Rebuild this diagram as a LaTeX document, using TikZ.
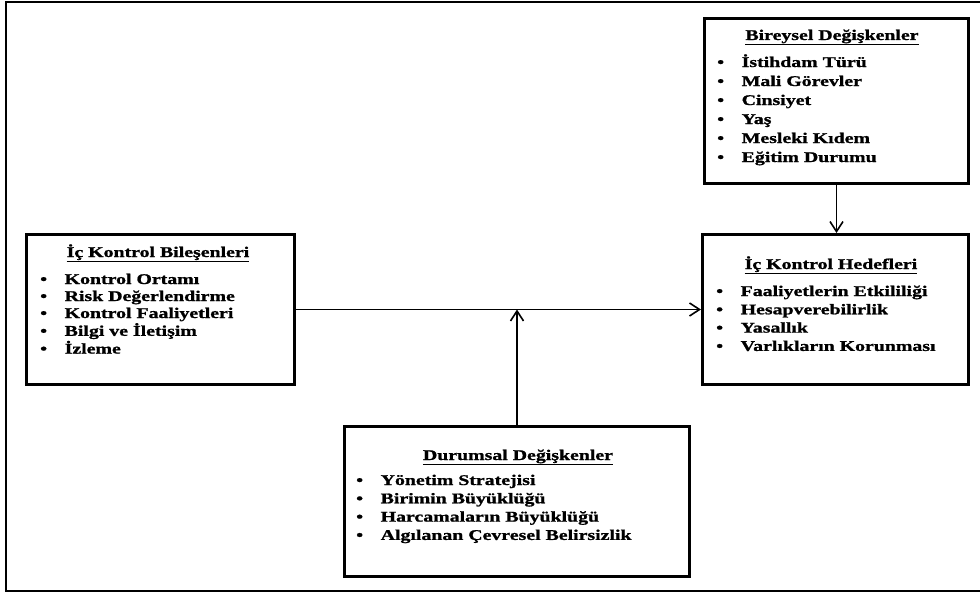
\documentclass[tikz,border=0pt]{standalone}
\usepackage{fontspec}
\setmainfont{Liberation Serif}[FakeStretch=1.34, BoldFeatures={FakeBold=1.2}]
\usetikzlibrary{arrows.meta}
\newcommand\itm[1]{\makebox[24.5pt][l]{\textbullet}#1\\}
\begin{document}
\begin{tikzpicture}[x=1pt,y=-1pt,
  box/.style={draw, line width=3pt, inner sep=0pt, anchor=north west},
  ttl/.style={anchor=base, inner sep=0pt, font=\fontsize{14.8}{18}\selectfont\bfseries},
  lst/.style={anchor=base west, inner sep=0pt, font=\fontsize{14.8}{#1}\selectfont\bfseries},
  conn/.style={line width=1.6pt, -{Straight Barb[length=10pt,width=13pt]}},
  frame/.style={line width=2pt}]
\useasboundingbox (0,0) rectangle (980,594);
\draw[frame] (980,2) -- (6,2) -- (6,591) -- (980,591);

% boxes
\node[box, minimum width=264pt, minimum height=165pt] (bir) at (703,17) {};
\node[box, minimum width=268pt, minimum height=150pt] (bil) at (25,233) {};
\node[box, minimum width=266pt, minimum height=150pt] (hed) at (701,233) {};
\node[box, minimum width=345pt, minimum height=150pt] (dur) at (343,425) {};

% texts
\node[ttl] (birT) at (832,40) {\underline{Bireysel Değişkenler}};
\node[lst=19] (birL) at (717,67) {\begin{tabular}[t]{@{}l@{}}\itm{İstihdam Türü}\itm{Mali Görevler}\itm{Cinsiyet}\itm{Yaş}\itm{Mesleki Kıdem}\itm{Eğitim Durumu}\end{tabular}};

\node[ttl] (bilT) at (158,257) {\underline{İç Kontrol Bileşenleri}};
\node[lst=17] (bilL) at (40,284) {\begin{tabular}[t]{@{}l@{}}\itm{Kontrol Ortamı}\itm{Risk Değerlendirme}\itm{Kontrol Faaliyetleri}\itm{Bilgi ve İletişim}\itm{İzleme}\end{tabular}};

\node[ttl] (hedT) at (831,269) {\underline{İç Kontrol Hedefleri}};
\node[lst=18.3] (hedL) at (716,296) {\begin{tabular}[t]{@{}l@{}}\itm{Faaliyetlerin Etkililiği}\itm{Hesapverebilirlik}\itm{Yasallık}\itm{Varlıkların Korunması}\end{tabular}};

\node[ttl] (durT) at (518,460) {\underline{Durumsal Değişkenler}};
\node[lst=18.3] (durL) at (356,485) {\begin{tabular}[t]{@{}l@{}}\itm{Yönetim Stratejisi}\itm{Birimin Büyüklüğü}\itm{Harcamaların Büyüklüğü}\itm{Algılanan Çevresel Belirsizlik}\end{tabular}};

% connectors
\coordinate (meet) at (dur.north |- bil.east);
\draw[conn] (bil.east) -- (hed.west);
\draw[conn] (dur.north) -- (meet);
\draw[conn] (bir.south) -- (bir.south |- hed.north);
\end{tikzpicture}
\end{document}
